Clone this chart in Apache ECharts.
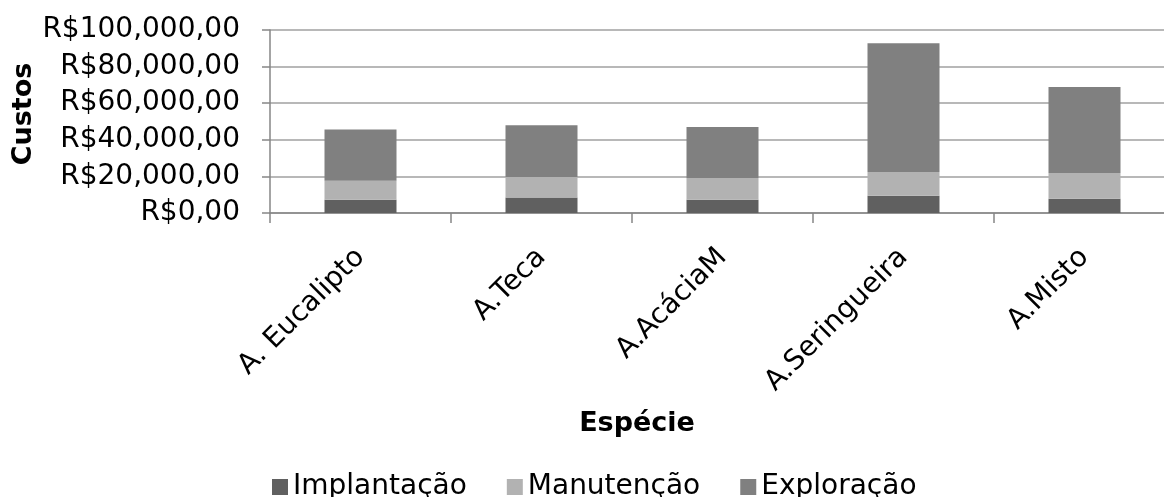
<!DOCTYPE html>
<html>
<head>
<meta charset="utf-8">
<script src="https://cdn.jsdelivr.net/npm/echarts@6/dist/echarts.min.js"></script>
<style>
  html, body { margin: 0; padding: 0; background: #ffffff; overflow: hidden; }
  /* canvas is a bit wider than the window: the last category runs past the right edge */
  #chart { width: 1175px; height: 497px; }
</style>
</head>
<body>
<div id="chart"></div>
<script>
// Custos por espécie, em R$ (barras empilhadas)
const categories = ['A. Eucalipto', 'A.Teca', 'A.AcáciaM', 'A.Seringueira', 'A.Misto'];
const implantacao = [7200, 8500, 7300, 9450, 7800];
const manutencao  = [10450, 11200, 11800, 12950, 14100];
const exploracao  = [27950, 28200, 27900, 70300, 46900];

const seriesNames = ['Implantação', 'Manutenção', 'Exploração'];
const seriesColors = ['#606060', '#b2b2b2', '#808080'];

const yTicks = [0, 20000, 40000, 60000, 80000, 100000];
const yTickLabels = ['R$0,00', 'R$20,000,00', 'R$40,000,00', 'R$60,000,00', 'R$80,000,00', 'R$100,000,00'];

const FONT = '"DejaVu Sans", "Liberation Sans", Arial, sans-serif';

const chart = echarts.init(document.getElementById('chart'), null, { renderer: 'canvas' });

const seriesData = [implantacao, manutencao, exploracao];

chart.setOption({
  backgroundColor: '#ffffff',
  animation: false,
  grid: { left: 270, top: 30, right: 0, height: 183, containLabel: false },
  legend: {
    left: 267,
    top: 467,
    icon: 'rect',
    itemWidth: 16,
    itemHeight: 16,
    itemGap: 40,
    textStyle: { fontFamily: FONT, fontSize: 28, color: '#000', lineHeight: 30 },
    data: seriesNames
  },
  xAxis: {
    type: 'category',
    data: categories,
    axisLine: { show: true, lineStyle: { color: '#868686', width: 1.5 } },
    axisTick: { show: true, length: 10, lineStyle: { color: '#868686', width: 1.5 } },
    axisLabel: {
      interval: 0,
      rotate: 45,
      margin: 40,
      fontFamily: FONT,
      fontSize: 28,
      color: '#000'
    }
  },
  yAxis: {
    type: 'value',
    min: 0,
    max: 100000,
    interval: 20000,
    axisLine: { show: true, lineStyle: { color: '#868686', width: 1.5 } },
    axisTick: { show: true, length: 8, lineStyle: { color: '#868686', width: 1.5 } },
    axisLabel: {
      margin: 30,
      fontFamily: FONT,
      fontSize: 28,
      color: '#000',
      formatter: function (v) {
        const i = yTicks.indexOf(v);
        return i >= 0 ? yTickLabels[i] : '';
      }
    },
    splitLine: { show: true, lineStyle: { color: '#a0a0a0', width: 1.5 } }
  },
  graphic: [
    {
      type: 'text',
      x: 24,
      y: 114,
      rotation: Math.PI / 2,
      style: {
        text: 'Custos',
        font: 'bold 27px ' + FONT,
        fill: '#000',
        align: 'center',
        verticalAlign: 'middle'
      }
    },
    {
      type: 'text',
      x: 637,
      y: 424,
      style: {
        text: 'Espécie',
        font: 'bold 27px ' + FONT,
        fill: '#000',
        align: 'center',
        verticalAlign: 'middle'
      }
    }
  ],
  series: seriesNames.map(function (name, i) {
    return {
      name: name,
      type: 'bar',
      stack: 'custos',
      barWidth: 72,
      itemStyle: { color: seriesColors[i] },
      data: seriesData[i]
    };
  })
});
</script>
</body>
</html>
